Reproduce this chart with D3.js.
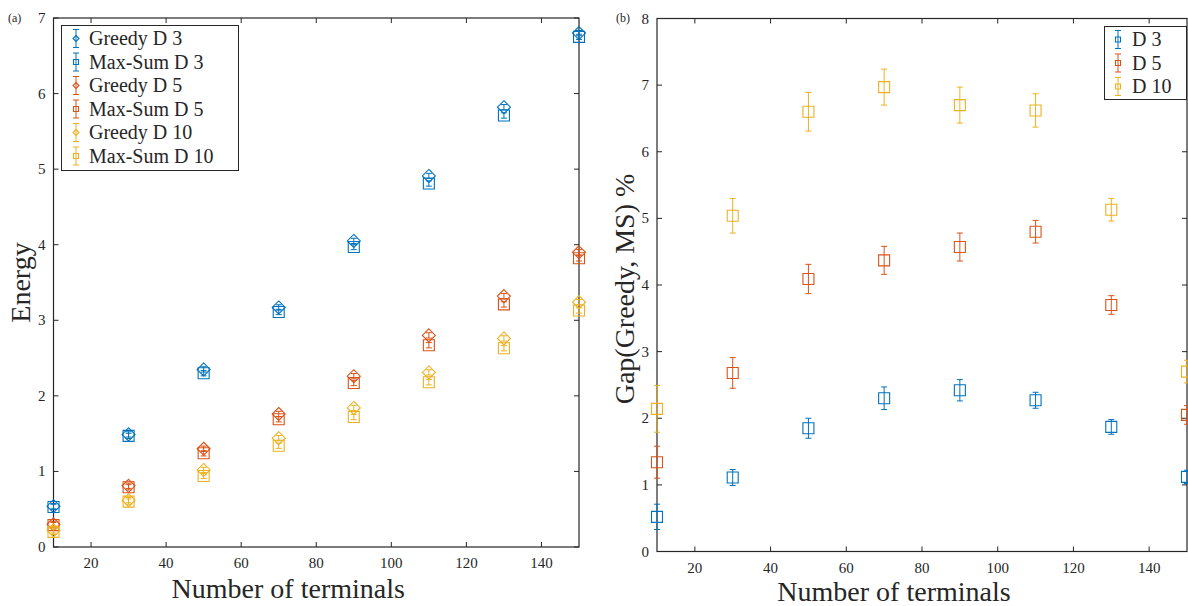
<!DOCTYPE html>
<html>
<head>
<meta charset="utf-8">
<script src="https://cdn.jsdelivr.net/npm/d3@7"></script>
<style>
body { margin: 0; background: #fff; }
text { font-family: "Liberation Serif", "Times New Roman", serif; fill: #262626; }
</style>
</head>
<body>
<svg id="chart" width="1188" height="606"></svg>
<script>
var terminals = [10, 30, 50, 70, 90, 110, 130, 150];

// panel (a): energy
var greedyD3 = [0.54, 1.49, 2.35, 3.17, 4.05, 4.91, 5.82, 6.80],
    maxSumD3 = [0.53, 1.47, 2.30, 3.11, 3.97, 4.81, 5.71, 6.75],
    greedyD5 = [0.30, 0.81, 1.30, 1.76, 2.26, 2.80, 3.32, 3.90],
    maxSumD5 = [0.29, 0.79, 1.24, 1.69, 2.17, 2.67, 3.21, 3.82],
    greedyD10 = [0.22, 0.62, 1.02, 1.44, 1.84, 2.31, 2.76, 3.24],
    maxSumD10 = [0.20, 0.60, 0.94, 1.34, 1.72, 2.18, 2.63, 3.13];
var energyErr = 0.035;

// panel (b): gap %
var gapD3 = [0.52, 1.11, 1.85, 2.30, 2.42, 2.27, 1.87, 1.12],
    gapD3Err = [0.19, 0.12, 0.15, 0.17, 0.16, 0.12, 0.11, 0.10],
    gapD5 = [1.34, 2.68, 4.09, 4.37, 4.57, 4.80, 3.70, 2.05],
    gapD5Err = [0.24, 0.23, 0.22, 0.21, 0.21, 0.17, 0.14, 0.14],
    gapD10 = [2.14, 5.04, 6.60, 6.97, 6.70, 6.62, 5.13, 2.70],
    gapD10Err = [0.35, 0.26, 0.29, 0.27, 0.27, 0.25, 0.17, 0.17];

var xTicks = [20, 40, 60, 80, 100, 120, 140],
    yTicksA = [0, 1, 2, 3, 4, 5, 6, 7],
    yTicksB = [0, 1, 2, 3, 4, 5, 6, 7, 8];

var blue = "#0072BD", red = "#D95319", yellow = "#EDB120";

var seriesA = [
  {name: "Greedy D 3", vals: greedyD3, color: blue, shape: "diamond"},
  {name: "Max-Sum D 3", vals: maxSumD3, color: blue, shape: "square"},
  {name: "Greedy D 5", vals: greedyD5, color: red, shape: "diamond"},
  {name: "Max-Sum D 5", vals: maxSumD5, color: red, shape: "square"},
  {name: "Greedy D 10", vals: greedyD10, color: yellow, shape: "diamond"},
  {name: "Max-Sum D 10", vals: maxSumD10, color: yellow, shape: "square"}
];
var seriesB = [
  {name: "D 3", vals: gapD3, err: gapD3Err, color: blue},
  {name: "D 5", vals: gapD5, err: gapD5Err, color: red},
  {name: "D 10", vals: gapD10, err: gapD10Err, color: yellow}
];

var svg = d3.select("#chart");
var axisColor = "#262626";

function drawFrame(g, x, y, yTicks) {
  var x0 = x.range()[0], x1 = x.range()[1], y0 = y.range()[0], y1 = y.range()[1];
  var tl = 5;
  g.append("rect").attr("x", x0).attr("y", y1).attr("width", x1 - x0).attr("height", y0 - y1)
    .attr("fill", "none").attr("stroke", axisColor).attr("stroke-width", 1.2);
  xTicks.forEach(function(t) {
    g.append("line").attr("x1", x(t)).attr("x2", x(t)).attr("y1", y0).attr("y2", y0 - tl).attr("stroke", axisColor);
    g.append("line").attr("x1", x(t)).attr("x2", x(t)).attr("y1", y1).attr("y2", y1 + tl).attr("stroke", axisColor);
    g.append("text").attr("x", x(t)).attr("y", y0 + 21).attr("text-anchor", "middle")
      .attr("font-size", 15).text(t);
  });
  yTicks.forEach(function(t) {
    g.append("line").attr("x1", x0).attr("x2", x0 + tl).attr("y1", y(t)).attr("y2", y(t)).attr("stroke", axisColor);
    g.append("line").attr("x1", x1).attr("x2", x1 - tl).attr("y1", y(t)).attr("y2", y(t)).attr("stroke", axisColor);
    g.append("text").attr("x", x0 - 8).attr("y", y(t) + 5).attr("text-anchor", "end")
      .attr("font-size", 15).text(t);
  });
}

function errBar(g, cx, yTop, yBot, color, cap) {
  g.append("line").attr("x1", cx).attr("x2", cx).attr("y1", yTop).attr("y2", yBot)
    .attr("stroke", color).attr("stroke-width", 1);
  [yTop, yBot].forEach(function(yy) {
    g.append("line").attr("x1", cx - cap).attr("x2", cx + cap).attr("y1", yy).attr("y2", yy)
      .attr("stroke", color).attr("stroke-width", 1);
  });
}

// half = half width of the marker
function marker(g, cx, cy, shape, half, color) {
  var pts = shape === "diamond"
    ? [[0, -half], [half, 0], [0, half], [-half, 0]]
    : [[-half, -half], [half, -half], [half, half], [-half, half]];
  g.append("path").attr("d", d3.line()(pts) + "Z")
    .attr("transform", "translate(" + cx + "," + cy + ")")
    .attr("fill", "none").attr("stroke", color).attr("stroke-width", 1.1);
}

// ---------- panel (a)
var xA = d3.scaleLinear().domain([10, 150]).range([53.5, 579]);
var yA = d3.scaleLinear().domain([0, 7]).range([547, 18]);
var gA = svg.append("g");
drawFrame(gA, xA, yA, yTicksA);

seriesA.forEach(function(s) {
  s.vals.forEach(function(v, i) {
    var cx = xA(terminals[i]), cy = yA(v);
    errBar(gA, cx, yA(v + energyErr), yA(v - energyErr), s.color, 3);
    if (s.shape === "diamond") marker(gA, cx, cy, "diamond", 6.5, s.color);
    else marker(gA, cx, cy, "square", 5.5, s.color);
  });
});

gA.append("text").attr("x", 8).attr("y", 22).attr("font-size", 12).text("(a)");
gA.append("text").attr("x", xA(80) - 28).attr("y", 598).attr("text-anchor", "middle")
  .attr("font-size", 28).text("Number of terminals");
gA.append("text").attr("transform", "translate(30," + yA(3.5) + ") rotate(-90)")
  .attr("text-anchor", "middle").attr("font-size", 28).text("Energy");

// legend (a)
var legA = gA.append("g");
legA.append("rect").attr("x", 61.5).attr("y", 25.5).attr("width", 177).attr("height", 145)
  .attr("fill", "#fff").attr("stroke", axisColor).attr("stroke-width", 1);
seriesA.forEach(function(s, i) {
  var ly = 38.5 + i * 23.5;
  errBar(legA, 76, ly - 9, ly + 9, s.color, 3);
  marker(legA, 76, ly, s.shape, s.shape === "diamond" ? 3 : 2.5, s.color);
  legA.append("text").attr("x", 89).attr("y", ly + 6.5).attr("font-size", 20).attr("fill", "#000").text(s.name);
});

// ---------- panel (b)
var xB = d3.scaleLinear().domain([10, 150]).range([657, 1187]);
var yB = d3.scaleLinear().domain([0, 8]).range([551.5, 18.5]);
var gB = svg.append("g");
drawFrame(gB, xB, yB, yTicksB);

seriesB.forEach(function(s) {
  s.vals.forEach(function(v, i) {
    var cx = xB(terminals[i]);
    errBar(gB, cx, yB(v + s.err[i]), yB(v - s.err[i]), s.color, 3);
    marker(gB, cx, yB(v), "square", 5.5, s.color);
  });
});

gB.append("text").attr("x", 616).attr("y", 22).attr("font-size", 12).text("(b)");
gB.append("text").attr("x", xB(80) - 28).attr("y", 601).attr("text-anchor", "middle")
  .attr("font-size", 28).text("Number of terminals");
gB.append("text").attr("transform", "translate(634," + (yB(4) + 4) + ") rotate(-90)")
  .attr("text-anchor", "middle").attr("font-size", 28).text("Gap(Greedy, MS) %");

var legB = gB.append("g");
legB.append("rect").attr("x", 1104.5).attr("y", 26.5).attr("width", 82).attr("height", 73)
  .attr("fill", "#fff").attr("stroke", axisColor).attr("stroke-width", 1);
seriesB.forEach(function(s, i) {
  var ly = 39.5 + i * 23.5;
  errBar(legB, 1118, ly - 9, ly + 9, s.color, 3);
  marker(legB, 1118, ly, "square", 2.5, s.color);
  legB.append("text").attr("x", 1132).attr("y", ly + 6.5).attr("font-size", 20).attr("fill", "#000").text(s.name);
});
</script>
</body>
</html>
